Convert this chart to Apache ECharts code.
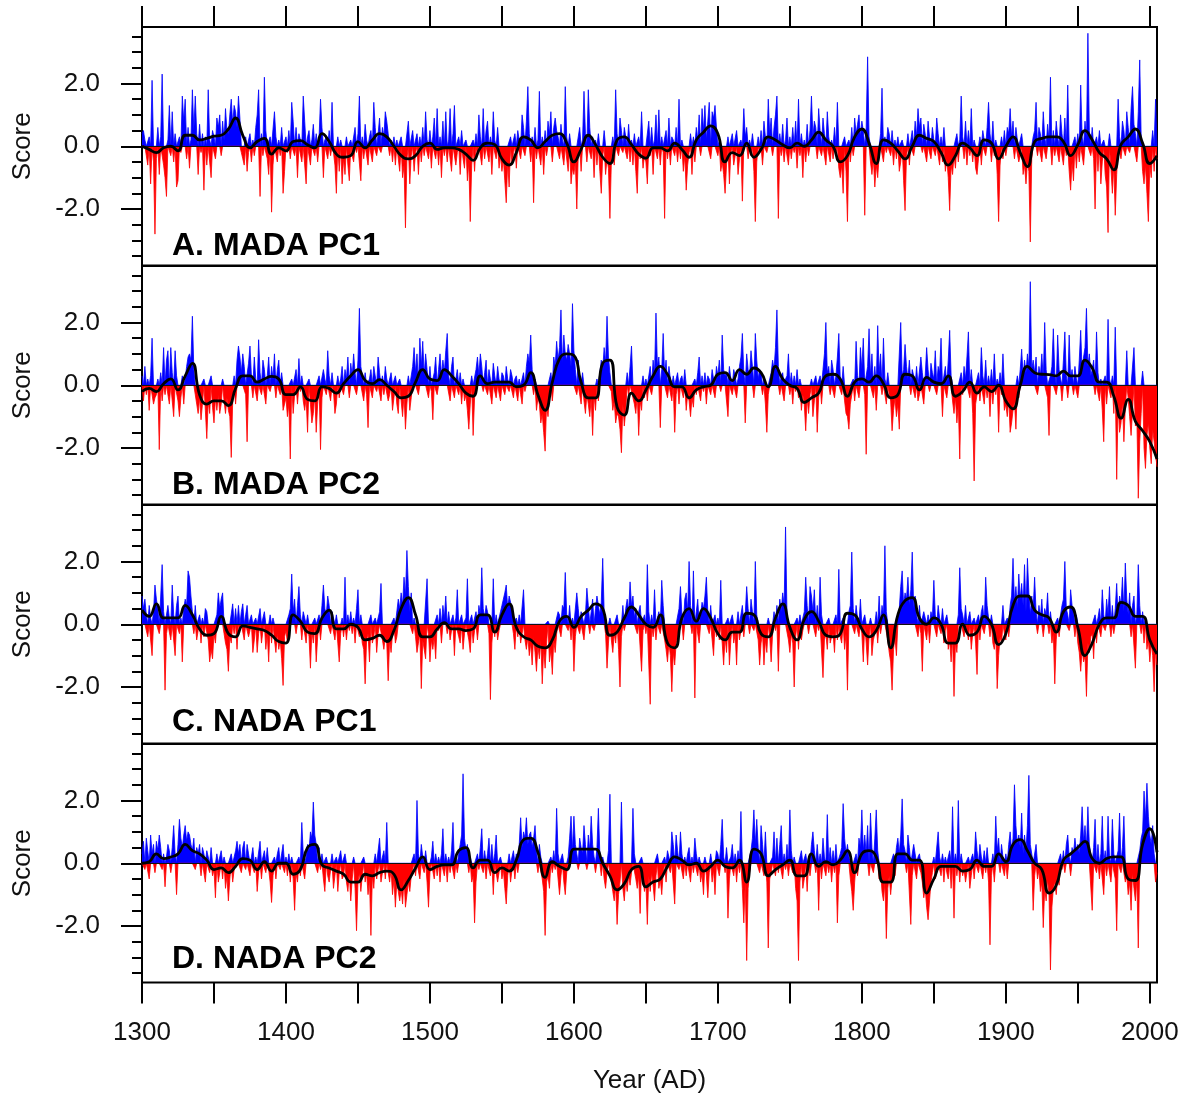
<!DOCTYPE html>
<html>
<head>
<meta charset="utf-8">
<script src="https://cdn.jsdelivr.net/npm/echarts@6/dist/echarts.min.js"></script>
<style>
html,body{margin:0;padding:0;background:#fff;}
#chart{width:1192px;height:1103px;}
</style>
</head>
<body>
<div id="chart"></div>
<script>
// ---- DATA (annual values, first year 1300) ----
const startYear = 1300;
const smoothStep = 5;
const panelTitles = ['A. MADA PC1', 'B. MADA PC2', 'C. NADA PC1', 'D. NADA PC2'];
const xTickValues = [1300,1350,1400,1450,1500,1550,1600,1650,1700,1750,1800,1850,1900,1950,2000];
const xLabelValues = [1300,1400,1500,1600,1700,1800,1900,2000];
const yLabelValues = [-2, 0, 2];
const yMinorValues = [-3.5,-3,-2.5,-1.5,-1,-0.5,0.5,1,1.5,2.5,3,3.5];

const madaPC1 = [
0.4,0.5,0.2,-0.3,-0.6,0.3,-1.2,2.1,-0.5,-2.8,
-0.4,0.6,-0.9,0.3,2.3,-0.6,-1.0,-1.6,0.2,1.3,
-0.3,1.1,-0.5,0.4,-1.3,-1.1,0.3,-0.2,1.6,0.8,
1.5,-0.4,0.6,-0.7,0.2,1.8,0.5,1.6,0.4,-0.9,
0.7,-0.2,0.4,-1.4,0.3,-0.6,1.8,0.2,-1.0,0.5,
0.3,-0.4,0.9,0.6,1.0,-0.3,0.8,0.2,1.2,0.5,
0.4,1.0,1.5,0.7,1.3,1.1,0.6,1.6,0.9,-0.2,
-0.4,-0.6,0.3,-0.8,-0.2,0.4,-0.5,0.2,-0.3,0.6,
1.0,1.8,-1.6,0.4,-0.3,2.2,0.5,-0.4,-0.9,0.3,
-2.1,-0.6,1.1,0.3,-0.5,0.2,-0.3,0.6,-1.5,-0.8,
0.3,-0.2,0.5,-0.4,1.4,0.8,-0.3,0.6,-1.0,0.4,
0.2,-0.5,1.6,0.8,-1.2,0.3,0.5,-0.6,0.2,0.7,
-0.3,0.4,-0.5,0.3,1.5,0.6,-1.0,0.2,0.3,-0.4,
0.5,-0.3,1.4,-0.2,-0.6,-1.5,0.3,-0.8,0.2,-1.2,
-0.4,-0.9,0.3,-0.6,-1.1,0.2,-0.3,-0.5,0.6,-0.2,
0.4,1.6,-1.1,0.3,-0.4,0.7,0.2,-0.6,0.3,0.5,
-0.5,1.4,0.6,-0.3,0.4,0.9,-0.2,0.6,0.3,1.1,
0.8,0.4,-0.3,0.2,-0.5,0.3,-0.6,0.2,-0.4,-0.8,
0.3,-1.0,-0.6,-2.6,-0.4,0.8,-1.2,-0.3,0.5,-0.8,
-0.2,0.4,-0.9,0.3,-0.5,0.6,-0.3,1.1,0.2,-0.4,
0.5,-0.7,0.3,0.9,-0.4,1.2,-0.6,0.3,-1.0,0.8,
-0.3,1.1,-0.5,0.2,1.2,-0.8,0.4,1.3,-0.6,-0.2,
0.3,-0.9,0.5,-0.4,-0.7,0.2,-1.1,-0.5,-2.4,-0.6,
0.2,-0.8,0.4,-0.3,1.0,0.3,-0.6,1.2,-0.4,0.5,
0.8,-0.5,0.3,-0.9,1.1,0.2,-0.4,0.6,-0.7,-0.3,
-0.8,-0.4,-1.1,-1.8,-0.5,-1.3,0.3,-0.6,-0.2,0.4,
-0.7,0.5,0.2,-0.4,1.0,0.6,-0.3,0.8,1.9,0.4,
-0.5,0.3,-1.8,0.6,-0.4,0.2,1.75,-0.6,0.3,-0.9,
0.5,-0.3,0.8,0.4,1.1,-0.5,0.6,0.9,0.5,0.3,
-0.4,0.7,0.2,-0.6,1.9,0.3,-0.8,0.4,-1.2,-0.7,
-0.9,-0.5,-2.0,-0.3,0.6,-0.8,0.2,1.75,0.4,-0.5,
1.8,0.6,-0.4,0.3,-1.0,0.2,-0.6,0.4,-0.8,-1.5,
-0.3,0.5,-0.9,-0.4,-0.7,-2.3,-0.5,0.3,-0.6,1.8,
0.4,-0.3,0.9,0.5,-0.2,0.6,0.3,-0.4,0.7,-0.5,
0.2,-0.6,0.4,-0.8,-1.5,0.3,-0.4,1.1,-0.7,-0.3,
-0.5,-1.2,0.8,-0.3,0.6,-0.9,0.2,1.0,-0.4,1.16,
-0.6,0.3,-0.2,-2.3,0.5,-0.4,0.9,-0.6,0.3,0.2,
-0.3,0.6,-0.5,1.5,-0.4,0.2,-0.8,-0.3,-1.4,-0.6,
-0.2,0.4,-0.9,0.3,-0.5,0.6,0.2,1.0,-0.3,1.2,
0.5,1.3,0.2,0.8,1.4,-0.4,1.1,0.9,1.3,0.6,
-0.3,0.2,-0.8,-0.5,-0.9,-1.5,-0.6,0.3,-1.2,-0.2,
0.4,-0.6,-0.3,0.5,-0.9,-0.4,0.2,-1.75,1.2,0.3,
0.6,-0.4,0.2,-0.3,0.4,-0.8,-2.4,-0.5,0.3,-0.2,
0.5,-0.6,0.8,0.3,-0.2,1.5,0.4,0.9,-0.3,0.6,
1.0,1.6,-2.3,0.4,-0.3,0.7,-0.5,0.2,0.9,-0.6,
0.3,-0.4,0.6,-0.2,0.8,-0.7,1.5,-0.3,0.4,-1.0,
0.2,-0.5,0.7,-0.3,0.5,1.6,0.3,0.8,0.6,-0.4,
1.2,0.5,-0.3,0.9,0.4,-0.6,1.1,0.3,-0.5,0.2,
-0.4,0.6,-0.2,1.4,-0.7,-1.0,-0.6,-1.5,0.3,-0.8,
-2.4,0.2,-0.5,0.6,-0.3,0.9,0.4,0.7,1.0,0.3,
0.8,0.5,-2.2,0.6,2.85,0.3,-0.5,-0.9,-0.4,-1.3,
-0.6,-1.0,-0.3,0.4,1.85,-0.5,0.3,-0.2,0.6,0.4,
-0.3,0.5,-0.6,0.2,-0.4,0.3,-0.8,-0.5,0.2,-1.1,
-2.05,-0.3,0.4,-0.6,0.2,0.5,-0.3,0.8,0.3,1.2,
0.6,0.9,-0.2,0.7,0.4,-0.5,0.8,0.3,-0.4,0.6,
0.2,-0.3,0.9,0.4,-0.6,0.3,-0.5,0.6,-0.8,-0.4,
-1.0,-2.05,-0.6,-0.9,-0.3,-0.7,0.4,-0.5,0.2,1.6,
0.3,-0.4,0.8,-0.6,0.5,-0.3,1.2,-0.5,0.2,-0.7,
-0.9,-0.4,0.3,-0.6,0.5,0.2,-0.3,0.6,1.4,0.4,
-0.5,0.8,-0.3,0.2,-0.9,-2.4,-0.6,0.3,-0.4,0.5,
-0.3,0.6,0.4,1.2,0.3,0.8,-0.4,0.6,0.2,-0.5,
-0.3,0.4,-0.9,-0.6,-1.2,-0.5,-0.8,-3.05,-0.4,0.3,
0.5,1.4,-0.3,0.6,0.4,-0.5,1.1,0.3,-0.4,0.7,
0.2,2.2,-0.6,0.5,-0.3,0.8,0.3,-0.5,1.0,0.4,
-0.6,0.9,-0.3,1.95,-0.8,-1.4,-0.5,-1.1,0.3,-0.7,
0.4,-0.5,1.95,0.3,-0.6,0.8,0.2,3.6,0.5,-0.3,
0.6,-0.4,-2.0,0.3,-0.8,0.5,-1.2,-0.5,0.2,-0.9,
-1.3,-2.75,0.4,-0.7,-1.5,-0.6,-2.2,-0.9,1.5,0.3,
-0.4,0.8,0.5,-0.3,1.1,0.6,-0.2,1.2,1.9,0.7,
0.4,-0.5,1.1,2.75,0.3,-0.8,-1.2,-0.6,-1.5,-2.4,
-0.6,-1.0,0.5,-0.8,1.5,-0.4
];

const madaPC2 = [
0.3,-0.5,0.6,-0.3,0.2,-0.8,0.3,1.5,-0.6,-0.4,
-0.3,0.2,-2.05,0.4,-0.5,1.2,-0.3,0.8,1.1,-0.6,
1.2,0.4,-1.0,1.1,0.3,-0.5,-1.0,-0.4,0.3,-0.6,
0.2,0.6,0.9,1.0,0.8,2.2,0.5,-0.3,-0.6,-0.9,
-0.4,-1.1,-0.6,0.2,-0.8,-1.7,-0.5,-0.9,0.3,-0.7,
-1.2,-0.4,-0.8,-0.3,-0.9,-0.6,0.2,-0.5,-0.9,-0.4,
-0.8,-1.0,-2.3,-0.5,0.3,-0.6,0.8,1.25,0.9,0.4,
1.0,0.6,-0.3,-1.8,0.7,1.25,0.3,-0.4,0.9,0.2,
-0.5,1.45,0.4,-0.3,0.8,0.5,-0.6,0.3,0.9,-0.2,
0.6,0.2,1.0,-0.4,0.5,0.8,-0.3,0.4,-0.8,-0.6,
-0.4,-1.0,-0.6,-2.35,0.2,-0.9,-0.3,0.5,-0.6,0.85,
-0.2,0.3,-0.5,-0.8,-0.4,-1.5,0.2,-0.6,-1.2,-0.9,
-0.3,-1.5,-0.6,0.3,-2.05,-0.4,0.5,0.2,-0.3,1.1,
0.3,-0.5,0.4,-0.2,-0.9,-0.6,0.3,-0.4,0.2,0.6,
-0.3,0.5,0.2,0.9,-0.4,0.7,0.3,1.0,0.4,-0.3,
0.8,2.45,0.6,0.3,-0.5,0.4,-0.3,-1.35,0.2,0.5,
-0.4,0.6,0.3,-0.2,0.9,0.4,-0.5,0.3,-0.3,0.6,
0.2,-0.5,-0.3,0.4,-0.8,-0.4,0.3,-0.6,-0.9,0.2,
-0.5,-1.0,-0.3,-1.4,-0.6,0.3,-0.8,-0.4,0.6,1.2,
0.4,1.0,-0.3,1.5,0.6,1.4,0.3,1.0,0.5,-0.4,
0.6,-0.2,-1.1,0.4,0.9,-0.3,0.5,1.0,0.3,0.8,
0.4,1.1,1.65,0.3,-0.5,0.6,0.9,-0.4,0.2,0.5,
-0.3,0.4,-0.6,0.2,-0.5,-0.3,-0.8,-1.4,-0.6,0.3,
-1.6,-0.4,0.5,0.9,0.3,1.0,0.6,-0.2,0.4,0.8,
-0.3,0.5,0.2,-0.6,0.7,0.3,-0.4,0.6,0.2,-0.5,
0.4,0.3,-0.3,0.6,0.2,-0.2,0.5,0.3,-0.4,0.2,
0.3,-0.5,0.2,-0.3,-0.6,0.4,-0.2,0.6,1.0,0.7,
1.6,0.5,-0.3,0.2,-0.8,-0.4,-0.6,-1.2,-0.9,-1.5,
-2.1,-0.6,-1.0,-0.3,0.4,-0.5,0.9,0.6,1.4,0.8,
1.2,2.4,0.7,1.6,1.0,0.8,1.3,1.0,0.6,2.6,
1.1,0.5,-0.3,0.8,0.2,-0.6,0.4,-0.5,-0.9,-0.3,
-0.6,-1.0,-0.4,-1.6,-0.3,-0.8,0.2,-0.5,0.4,0.8,
0.5,1.2,0.7,2.2,0.9,0.4,-0.2,-0.8,-0.5,-1.2,
-0.9,-1.0,-1.4,-2.15,-0.6,-1.3,-0.8,0.4,-0.3,0.6,
1.25,-0.4,-0.6,-0.9,-0.3,-1.6,-0.5,-0.8,0.3,-0.4,
0.2,-0.5,0.3,0.6,-0.3,0.8,0.4,2.3,0.6,0.9,
-1.35,0.5,1.65,0.3,0.8,-0.4,0.6,0.2,-0.5,0.3,
-1.5,-0.3,0.4,-0.6,0.2,0.3,-0.4,0.5,-0.8,-0.3,
-0.5,-1.0,-0.4,-0.7,0.2,-0.3,0.4,0.9,-0.5,0.3,
-0.2,0.4,-0.6,0.3,0.2,-0.3,0.5,0.2,-0.4,0.6,
0.3,0.8,-0.2,1.6,0.5,0.3,0.4,-1.0,0.6,0.2,
-0.3,0.5,0.3,-0.4,0.2,0.6,0.9,1.65,0.4,-1.2,
1.0,0.5,0.3,1.1,0.6,-0.4,1.65,0.8,0.2,0.5,
0.4,-0.3,0.2,-0.6,-1.5,-0.3,0.2,0.4,0.8,0.5,
1.2,2.4,0.6,-0.3,0.3,0.4,-0.5,0.2,0.3,1.0,
-0.3,0.4,-0.6,0.3,-0.2,0.5,-0.4,0.2,-0.8,-0.3,
-0.6,-1.45,-0.4,-0.9,-0.3,0.2,-1.0,-0.5,0.3,-1.5,
-0.4,0.3,-0.6,0.5,1.0,2.0,0.4,0.6,-0.3,0.8,
0.5,-0.4,0.3,0.9,1.65,0.2,-0.3,0.6,-0.5,-0.9,
-1.0,-1.4,-0.6,-0.3,0.2,-0.5,1.4,0.3,-0.4,1.2,
0.5,1.5,-0.3,-2.2,0.6,1.8,0.3,1.0,-0.4,0.6,
-0.8,1.9,0.4,1.0,-0.3,1.5,0.2,-0.6,0.4,-0.3,
-0.5,-1.45,-0.8,-0.4,-1.0,-0.6,-1.4,2.0,0.3,0.5,
1.3,0.6,0.2,0.8,-0.3,0.5,0.3,-0.4,0.6,-0.5,
-0.3,0.9,0.4,-0.6,0.3,1.2,0.5,-0.2,0.7,0.4,
0.2,1.1,-0.3,0.6,0.4,1.5,-1.0,0.3,0.6,-0.4,
0.8,1.75,0.3,-0.5,-0.9,-0.4,-1.2,-0.6,-2.35,0.4,
-0.3,0.6,0.2,0.9,1.7,-0.4,0.5,-0.9,-3.05,-0.6,
-0.3,0.4,-0.5,1.2,0.3,-0.6,0.8,-0.4,0.3,-1.0,
0.5,-0.6,1.0,-0.3,0.2,-1.5,0.4,-0.3,1.0,-0.8,
-0.6,-1.0,-0.4,-1.5,-1.2,-0.8,-0.5,-1.4,0.3,-0.4,
0.5,1.15,0.3,0.8,0.4,1.0,0.6,3.3,0.5,0.8,
0.4,0.9,-0.3,0.6,0.3,1.0,0.2,2.0,0.5,-0.4,
-1.6,0.3,0.6,1.8,0.4,-0.3,1.6,0.5,0.2,-0.5,
0.8,1.7,0.3,-0.4,1.6,0.2,0.5,-0.3,0.6,0.2,
-0.4,0.8,1.75,0.4,0.9,1.2,2.45,0.6,1.0,0.3,
0.5,0.8,-0.3,1.7,0.4,-0.5,0.2,-0.8,-1.8,0.3,
-0.6,2.1,0.2,-0.4,0.3,-0.9,1.85,-3.0,-0.6,-1.5,
-1.2,-0.5,-1.8,-0.7,1.1,-0.4,-1.0,-1.6,-0.8,1.2,
-1.3,-1.0,-3.6,-1.8,-0.9,0.45,-2.0,-2.65,-1.6,-1.2,
-2.0,-2.5,-1.4,-1.8,-2.2,-2.6
];

const nadaPC1 = [
0.9,0.5,0.8,0.3,-0.4,0.6,0.2,-1.0,0.4,1.25,
0.8,0.5,-0.3,0.9,1.9,0.4,-2.1,-0.3,0.6,0.2,
-0.5,1.25,0.3,-1.0,0.6,0.9,-0.3,0.2,-1.2,0.5,
0.8,0.6,1.7,1.5,0.9,0.4,-0.3,0.6,-0.5,-0.2,
0.3,-0.6,0.2,-0.4,0.5,0.4,-0.5,-1.2,-0.8,-1.1,
-0.3,-0.6,0.3,1.0,0.5,0.8,1.0,-0.3,-0.6,-0.8,
-1.5,-0.4,-0.6,0.65,-0.3,0.5,-0.8,0.6,-0.2,0.4,
0.65,-0.5,0.3,0.6,-0.4,-0.2,0.3,-0.9,-0.5,0.2,
-0.9,-0.3,0.5,-0.6,-0.2,0.4,-0.8,-0.3,-1.2,0.3,
-0.6,0.2,-0.5,-0.9,-0.3,-0.8,-0.5,-1.1,-1.95,-0.4,
-0.2,-0.6,0.3,0.5,1.6,0.4,0.8,-0.3,0.6,1.2,
0.3,-0.5,0.4,0.2,-0.6,0.3,-0.4,-1.4,-0.2,-0.6,
0.2,-1.2,-0.4,0.3,-0.5,0.6,1.25,0.5,0.3,0.9,
0.6,-0.3,0.4,0.2,-0.5,0.3,-0.6,-1.2,-0.3,0.2,
-0.4,1.5,-0.5,0.3,-0.2,0.4,-0.3,0.2,-0.6,0.5,
1.1,-0.4,0.3,-0.6,-0.8,-1.9,-0.5,-0.3,-1.2,0.3,
-0.6,-0.4,0.2,-0.9,-0.3,0.4,1.3,-0.5,-0.8,-0.4,
-0.6,-1.8,-0.5,-0.9,-0.3,0.2,-0.6,-0.4,0.8,0.5,
1.0,0.6,1.5,0.9,2.35,1.2,0.4,1.0,-0.3,0.2,
-0.4,-0.9,-0.6,-0.3,-2.05,-0.5,-0.8,-1.1,1.45,-0.3,
-1.2,-0.5,-0.8,-0.4,-1.1,0.3,-0.2,0.5,-0.6,0.6,
0.2,0.9,-0.3,0.4,-0.5,-0.2,0.3,-1.0,0.2,1.1,
-0.4,-0.6,0.3,-0.8,-0.3,0.2,1.45,-0.5,-0.9,0.3,
-0.6,-0.2,0.4,-0.5,0.6,0.3,1.8,0.5,0.2,0.6,
0.4,-0.3,-2.4,-0.6,1.45,-0.4,0.3,-0.5,-0.2,0.4,
0.6,0.8,1.0,1.25,0.5,0.9,0.7,0.4,-0.3,-0.8,
0.2,-0.4,0.3,-0.6,-0.3,1.1,-0.5,-0.8,-0.4,-1.0,
-0.6,-1.3,-0.4,-0.9,-1.5,-0.7,-1.1,-0.5,-1.9,-0.8,
-1.4,-0.6,0.1,-1.2,-0.8,-1.6,-0.5,-0.9,-0.3,0.4,
0.3,-0.4,0.6,0.5,1.65,0.3,-0.2,0.6,-0.5,0.2,
-1.5,-0.4,1.0,0.5,-0.3,0.4,0.2,-0.5,0.3,1.15,
0.6,-0.3,0.4,0.8,-0.2,0.5,0.9,0.6,0.3,0.7,
2.1,0.4,-0.3,-1.4,-0.6,0.2,-0.5,-0.9,-0.3,-0.6,
0.3,-0.8,-2.0,-0.4,0.6,-0.2,0.5,0.8,0.4,1.35,
0.6,0.9,0.2,0.5,-0.3,0.4,0.6,-1.5,-0.2,0.3,
-0.3,1.9,0.4,-2.55,0.3,-0.4,1.1,-0.5,0.2,0.4,
-0.3,1.4,0.6,-0.5,-0.8,-1.2,-0.6,-1.0,-2.15,-0.9,
-1.3,-0.6,-0.4,0.5,1.2,0.3,-0.5,0.8,1.0,0.4,
2.0,0.6,-0.3,1.7,-2.35,0.4,0.8,-0.6,0.3,0.7,
0.5,0.9,1.5,0.4,-0.3,0.6,-0.5,-1.0,0.3,-0.4,
0.2,-0.5,1.4,-0.6,-1.3,-0.4,-0.9,0.2,-1.3,-0.5,
0.3,-0.6,-0.3,-1.3,0.4,-0.5,-0.2,0.6,-0.4,0.3,
1.2,0.5,-0.3,0.8,0.4,-0.2,2.0,0.3,-0.5,-1.3,
-0.6,-0.3,-1.3,-0.5,-0.9,0.2,-0.4,-1.2,-0.3,0.4,
-0.2,0.6,-1.5,0.8,0.4,1.0,0.6,3.1,0.3,-0.5,
-0.9,-0.3,-0.6,-2.0,-0.4,0.2,-0.8,0.3,-0.5,-0.2,
0.4,1.5,0.6,-0.3,1.2,0.9,0.4,1.1,-0.4,0.6,
-0.2,1.5,0.3,-1.7,-0.5,-0.3,-0.8,0.2,-0.6,-0.4,
-0.3,-0.9,0.3,-0.5,1.75,-0.4,-0.6,0.2,-0.8,-0.3,
-2.1,0.4,0.6,2.3,0.5,-0.3,0.6,0.2,-0.4,0.8,
-0.3,-1.2,0.3,-0.6,-1.3,-0.4,0.2,-1.0,-0.5,-0.3,
0.4,-0.6,0.9,-0.3,0.6,0.3,2.5,0.4,-0.5,-0.9,
-1.2,-2.1,-0.8,-0.4,-1.0,0.3,0.5,1.2,1.7,0.6,
1.0,0.8,1.5,0.6,1.1,2.3,0.5,0.9,0.3,-0.4,
0.6,-0.3,-1.5,0.4,0.2,-0.5,0.3,-0.6,0.4,0.2,
1.4,0.3,-0.4,0.6,0.2,-0.3,0.5,-0.6,-0.2,0.3,
-0.8,-0.5,-1.2,-0.4,-2.3,-0.6,-0.9,0.3,1.8,0.5,
0.3,-0.4,0.6,-0.2,-0.5,0.4,-0.8,-0.3,0.2,-0.6,
-1.6,0.3,-0.5,0.4,0.6,-0.3,1.5,0.6,0.2,-0.4,
0.3,-0.6,-0.8,-0.3,-2.05,-1.0,-0.4,-0.6,0.6,-0.3,
-0.5,0.2,-0.4,0.6,0.9,2.1,0.7,1.2,0.5,1.6,
0.8,1.3,0.6,1.9,0.4,2.1,1.0,0.3,0.9,0.5,
1.5,0.4,-0.3,0.6,0.2,0.8,-0.4,0.5,0.3,1.0,
-0.3,0.4,-0.6,-0.3,-1.9,-0.5,0.2,-0.4,0.3,0.6,
0.8,2.0,0.5,0.3,-0.2,1.1,0.6,0.4,-0.4,0.3,
-0.6,-0.9,-1.5,-0.8,-1.2,-1.0,-2.3,-0.6,-0.9,-0.4,
-0.3,-1.1,0.3,-0.6,0.2,0.5,-0.4,1.1,0.3,-0.2,
0.8,0.3,1.2,-0.4,0.6,-0.3,0.5,1.3,0.2,0.9,
0.6,1.5,0.4,1.95,0.8,0.3,1.0,-0.4,0.6,0.9,
-1.4,0.3,1.9,0.6,-0.3,0.4,-0.6,0.2,-0.8,-0.5,
-1.2,-0.6,-1.0,-2.15,-0.8,-1.3
];

const nadaPC2 = [
0.3,0.7,-0.2,0.8,0.4,-0.5,0.9,0.3,0.6,-0.3,
0.7,0.4,0.9,0.5,-0.2,0.3,-0.75,0.2,0.6,0.4,
-0.3,0.5,1.2,0.3,-1.0,0.6,1.4,0.8,0.5,0.9,
1.2,0.7,1.0,0.9,0.6,0.4,0.8,-0.2,0.5,0.3,
0.6,-0.4,0.5,0.3,-0.6,0.4,0.2,-0.3,0.5,-0.4,
-0.2,-1.1,0.3,-0.6,-0.3,0.4,-0.5,0.2,-0.8,-0.4,
-1.2,-0.5,0.3,-0.6,-0.2,0.4,0.7,0.3,0.6,-0.3,
0.5,0.7,-0.2,0.6,0.3,-0.4,0.2,0.5,-0.3,0.2,
-0.9,-0.3,0.7,-0.5,0.2,0.4,-0.3,0.5,-0.2,-0.6,
-1.25,-0.4,0.2,-0.5,0.3,0.5,-0.2,0.3,0.6,-0.3,
0.2,-0.4,0.3,-0.6,0.2,-0.5,-1.5,-0.3,-0.6,0.2,
-0.4,1.3,0.3,-0.5,0.2,0.6,0.4,1.0,0.8,1.95,
0.9,0.6,-0.3,0.5,-0.2,0.3,-0.5,-0.9,0.2,-0.4,
-0.6,-0.2,0.3,-0.8,-0.4,0.2,-0.9,-0.3,0.4,-0.5,
-0.4,0.3,-0.6,-0.9,-0.3,-1.2,-0.5,0.2,-0.8,-2.15,
-0.6,-0.3,-0.9,-0.4,0.2,-0.6,-0.3,-1.0,-0.5,-2.3,
-0.4,-0.8,0.3,-0.5,-0.2,0.8,-0.6,-0.3,0.4,-0.5,
1.3,-0.3,-0.6,-0.2,-1.0,-0.5,-1.4,-0.6,-0.9,-1.2,
-0.8,-1.3,-0.5,-1.4,-1.0,-0.6,-0.9,-0.4,-0.2,0.3,
-0.4,2.0,0.3,-0.5,0.6,0.2,-0.3,0.4,-0.6,-1.4,
-0.3,0.2,0.7,-0.5,0.3,-0.4,0.2,-0.6,0.3,1.1,
-0.4,0.3,-0.6,0.2,-0.3,0.4,1.3,-0.5,0.2,-0.3,
0.3,0.6,0.9,2.85,0.8,0.4,0.6,-0.3,0.2,-0.6,
-0.4,-1.9,-0.6,0.3,-0.2,0.5,1.1,-0.3,0.4,-0.5,
0.3,0.8,-0.4,0.6,-1.0,0.3,0.9,-0.6,-0.3,0.2,
-0.5,-0.2,-0.8,-1.3,-0.4,0.3,-0.6,-0.2,0.4,-0.5,
0.3,-0.3,0.6,1.45,0.5,1.0,0.8,1.45,0.6,0.9,
1.0,0.5,0.8,1.2,0.4,-0.3,0.6,0.2,-0.5,-0.9,
-2.3,-0.6,-0.4,-0.8,0.2,-0.3,0.4,-0.2,1.75,0.3,
-1.0,-0.4,0.3,-0.6,-1.0,-0.3,0.2,0.8,1.5,0.4,
1.5,0.6,0.3,-0.2,0.8,0.5,0.3,1.2,0.6,-0.2,
0.9,0.4,1.5,0.6,0.2,-0.3,0.5,1.75,0.3,-0.4,
0.2,-0.5,-0.8,-0.3,0.4,2.2,-0.6,-0.9,-1.2,-0.7,
-1.95,-1.0,-0.6,1.95,-0.8,-1.2,-0.5,-0.9,-0.4,-0.7,
-0.3,1.75,0.3,-0.5,-0.8,-0.4,-1.6,0.2,-0.5,-0.9,
-0.6,-1.95,-0.4,-0.9,-0.3,-0.7,-1.2,-0.4,0.3,-0.8,
-0.5,-1.0,-0.3,0.2,-0.6,0.4,0.2,-0.3,1.0,0.6,
-1.3,0.9,0.4,-0.2,1.0,0.3,-0.5,0.2,-0.4,0.3,
0.5,-0.6,0.2,-0.3,0.8,0.3,-0.4,0.2,-0.6,-0.3,
-1.0,0.2,-0.4,-1.1,-0.3,0.3,-0.6,-0.2,-1.0,0.4,
0.3,-0.4,0.6,1.4,0.2,-0.3,0.5,-1.75,-0.5,0.2,
0.6,-0.4,0.3,-0.6,0.4,-0.3,1.65,-0.8,-1.9,-0.6,
-3.1,-0.8,-0.3,0.4,0.8,1.7,0.6,1.4,0.5,-0.3,
1.2,0.6,-0.4,1.0,-0.6,-2.7,-0.5,-0.3,0.2,1.0,
-0.4,0.8,-0.3,0.6,1.2,-0.5,0.3,-0.2,0.6,-0.4,
1.7,0.4,-0.3,0.2,-0.8,-1.2,-3.1,-0.6,0.4,-0.8,
-0.5,0.3,-0.9,0.2,-0.4,0.6,1.0,0.4,-0.3,0.6,
-1.5,0.3,-0.5,0.8,0.2,-0.4,1.55,-0.3,0.5,-0.6,
0.4,-0.3,0.6,-1.9,-0.4,0.3,0.5,1.9,0.8,0.3,
0.6,0.2,-0.5,-0.9,-1.5,-0.6,0.3,-0.4,0.8,0.5,
1.7,0.4,0.9,0.3,1.2,-0.4,1.6,0.5,-0.3,0.8,
1.7,0.4,-0.5,-0.2,-0.9,-1.2,-0.6,-2.4,-0.8,-0.4,
-1.0,-0.5,0.3,-0.4,0.5,0.8,0.3,0.9,2.05,0.6,
0.4,-0.3,0.9,0.5,-1.95,-0.4,0.6,0.3,-0.5,0.2,
0.3,-0.3,-0.6,-1.1,-0.8,-1.4,-1.8,-1.2,-0.6,-0.3,
0.2,-0.5,-0.3,1.0,0.2,-0.4,0.3,-0.6,0.2,-0.3,
-0.5,0.4,-0.8,1.8,-1.75,0.3,-0.4,2.0,-0.6,0.3,
-0.4,-0.2,-0.6,-0.3,0.2,-0.8,-0.4,0.3,-0.5,1.0,
0.4,-0.3,0.6,0.2,-0.5,0.4,-0.3,0.5,-0.6,-2.6,
-0.4,0.3,-0.6,1.5,0.4,0.8,-0.3,0.6,0.2,-0.4,
0.3,-0.5,0.6,1.0,0.4,0.8,2.5,1.2,0.6,0.9,
0.5,1.6,0.3,0.9,0.4,1.2,2.8,0.6,0.3,-1.5,
-0.4,0.6,-0.5,-0.2,-0.9,-0.6,-2.05,-0.8,-1.2,-0.5,
-1.0,-3.4,-1.4,-0.8,-0.6,-1.0,-0.4,-0.7,0.3,-0.2,
0.4,-0.3,0.6,0.9,0.2,-0.4,0.5,0.3,0.8,0.4,
0.6,0.3,0.9,1.8,0.7,1.2,0.5,1.8,0.6,0.3,
-1.5,0.5,1.4,-0.3,0.6,-0.5,0.3,1.5,-1.0,0.4,
-0.4,1.5,0.2,-0.6,1.4,0.3,-0.5,-2.15,0.4,1.6,
-0.3,0.5,1.5,-0.6,-0.4,-1.0,-0.6,-1.5,-0.3,-0.8,
-1.2,-0.5,-2.7,0.4,0.8,1.0,2.3,1.4,2.55,1.5,
0.9,0.6,1.2,0.3,-0.6,-0.3
];

// smoothed curves, one value every 5 years from 1300 to 2005
const madaPC1Smooth = [
0.0,-0.1,-0.2,-0.05,0.0,-0.15,0.35,0.35,0.2,0.25,
0.32,0.35,0.55,0.9,0.35,-0.05,0.15,0.25,-0.25,-0.05,
-0.15,0.15,0.18,0.05,-0.05,0.4,0.15,-0.25,-0.35,-0.3,
0.15,-0.05,0.2,0.4,0.3,0.0,-0.3,-0.4,-0.3,0.0,
0.1,-0.1,-0.05,-0.05,-0.1,-0.25,-0.45,-0.05,0.1,0.05,
-0.4,-0.6,-0.2,0.3,0.2,-0.05,0.15,0.35,0.4,0.1,
-0.5,-0.1,0.35,0.05,-0.35,-0.55,0.2,0.3,0.05,-0.25,
-0.38,-0.05,-0.05,-0.15,0.1,-0.1,-0.35,0.2,0.45,0.65,
0.4,-0.5,-0.2,-0.3,0.1,-0.35,-0.1,0.3,0.2,0.05,
-0.05,0.1,0.0,0.2,0.45,0.2,0.0,-0.5,-0.3,0.3,
0.55,0.1,-0.55,0.2,0.1,-0.15,-0.4,0.0,0.35,0.25,
0.15,-0.2,-0.6,-0.3,0.1,-0.05,-0.3,0.2,0.1,-0.4,
0.0,0.3,-0.2,-0.65,0.15,0.25,0.3,0.3,0.15,-0.3,
0.05,0.5,0.2,-0.2,-0.4,-0.75,0.05,0.3,0.55,0.1,
-0.55,-0.3
];
const madaPC2Smooth = [
-0.2,-0.1,-0.2,0.05,0.2,-0.15,0.3,0.7,-0.3,-0.6,
-0.5,-0.5,-0.65,-0.1,0.3,0.3,0.1,0.2,0.28,0.2,
-0.3,-0.3,-0.05,-0.45,-0.5,-0.05,-0.1,-0.25,0.05,0.3,
0.5,0.15,0.05,0.18,0.0,-0.2,-0.4,-0.35,0.1,0.5,
0.2,0.15,0.5,0.3,0.05,-0.25,-0.35,0.3,0.05,0.1,
0.1,0.1,-0.05,0.0,0.4,-0.3,-0.8,0.1,0.85,1.0,
0.95,0.1,-0.4,-0.4,0.7,0.8,-0.7,-0.95,-0.25,-0.5,
-0.15,0.3,0.6,0.35,-0.05,-0.05,-0.4,-0.15,-0.05,0.0,
0.35,0.4,0.15,0.5,0.35,0.55,0.4,-0.05,0.6,0.2,
0.0,-0.1,-0.55,-0.4,-0.25,0.3,0.35,0.2,-0.35,0.1,
0.2,0.1,0.3,0.05,-0.4,-0.3,0.35,0.3,-0.15,0.25,
0.1,0.05,0.3,-0.35,-0.2,0.1,-0.25,-0.05,-0.2,0.0,
-0.5,-0.75,0.0,0.6,0.4,0.35,0.34,0.3,0.45,0.3,
0.3,0.8,0.55,0.1,0.1,-0.35,-1.05,-0.45,-1.15,-1.45,
-1.8,-2.35
];
const nadaPC1Smooth = [
0.45,0.25,0.65,0.2,0.2,0.2,0.6,0.3,-0.15,-0.35,
-0.3,0.25,-0.3,-0.4,-0.05,-0.1,-0.15,-0.2,-0.35,-0.55,
-0.6,0.3,0.1,-0.25,-0.3,0.2,0.45,-0.15,-0.15,0.0,
-0.1,-0.5,-0.45,-0.35,-0.55,-0.2,0.5,0.85,0.3,-0.4,
-0.4,-0.15,0.05,-0.15,-0.15,-0.2,-0.15,0.3,0.3,-0.25,
0.3,0.65,-0.1,-0.4,-0.5,-0.7,-0.75,-0.5,0.1,0.25,
-0.1,0.25,0.45,0.65,0.5,-0.35,-0.25,0.2,0.55,0.3,
0.0,-0.1,0.3,-0.6,-0.75,0.2,0.5,0.1,0.5,0.2,
-0.3,-0.5,-0.25,-0.25,0.35,0.3,-0.3,-0.4,0.2,0.65,
-0.1,-0.5,0.15,0.4,0.1,-0.35,-0.4,-0.3,0.35,0.3,
-0.15,-0.4,-0.2,0.3,-0.75,0.3,0.75,0.85,0.2,0.0,
0.2,0.0,-0.6,-0.6,0.0,-0.35,-0.25,0.25,0.0,-0.65,
-0.3,0.6,0.9,0.9,0.45,0.3,0.2,-0.25,0.4,0.55,
-0.1,-1.0,-0.6,0.0,0.2,0.2,0.7,0.6,0.25,0.25,
-0.5,-0.95
];
const nadaPC2Smooth = [
0.0,0.05,0.3,0.15,0.2,0.3,0.6,0.4,0.3,0.1,
-0.2,-0.15,-0.3,-0.1,0.15,0.1,-0.2,0.05,-0.25,0.0,
0.0,-0.35,-0.2,0.5,0.6,-0.05,-0.15,-0.25,-0.35,-0.6,
-0.6,-0.35,-0.4,-0.3,-0.25,-0.35,-0.85,-0.55,-0.15,0.2,
-0.2,-0.1,-0.05,-0.05,0.4,0.5,-0.15,0.1,0.1,-0.3,
-0.15,-0.25,0.1,0.75,0.8,0.35,-0.45,0.05,-0.1,-0.2,
0.45,0.45,0.45,0.45,0.0,-0.4,-0.85,-0.65,-0.2,-0.1,
-0.75,-0.6,-0.5,-0.1,0.2,0.1,-0.05,0.0,-0.25,-0.1,
0.1,-0.1,-0.15,0.1,-0.6,0.45,0.3,-0.4,-0.2,-0.05,
0.1,-0.4,-0.4,0.3,-0.1,0.05,-0.05,0.1,0.4,-0.3,
0.3,0.4,0.2,-0.6,-0.6,0.3,0.3,0.1,0.1,-0.95,
-0.5,-0.1,-0.1,-0.1,-0.25,-0.2,0.1,-0.1,-0.1,0.3,
0.05,0.6,0.75,0.4,0.0,-0.2,-0.95,-0.7,0.1,0.3,
0.5,0.7,0.15,0.0,0.15,0.2,0.2,-0.5,-0.55,0.6,
1.1,0.35
];

// ---- CHART ----
const FONT = '"Liberation Sans", Arial, Helvetica, sans-serif';
const panels = [
  {vals: madaPC1, smooth: madaPC1Smooth},
  {vals: madaPC2, smooth: madaPC2Smooth},
  {vals: nadaPC1, smooth: nadaPC1Smooth},
  {vals: nadaPC2, smooth: nadaPC2Smooth}
];
const gridTops = [27, 266, 505, 744];
const gridH = 238.5;
const titleTops = [230, 469, 706, 943];

const grids = [], xAxes = [], yAxes = [], series = [], graphics = [];
panels.forEach((p, i) => {
  grids.push({left: 142, width: 1015, top: gridTops[i], height: gridH, show: true,
    borderColor: '#000', borderWidth: 2, backgroundColor: 'transparent', containLabel: false});
  const isTop = i === 0, isBottom = i === 3;
  xAxes.push({
    type: 'value', gridIndex: i, min: 1300, max: 2005,
    position: isTop ? 'top' : 'bottom',
    axisLine: {show: false, onZero: false},
    splitLine: {show: false},
    axisTick: {show: isTop || isBottom, customValues: xTickValues, length: 21,
      lineStyle: {color: '#000', width: 2}},
    axisLabel: {show: isBottom, customValues: xLabelValues, fontSize: 26, color: '#111',
      margin: 37, fontFamily: FONT, formatter: v => String(Math.round(v))},
    name: isBottom ? 'Year (AD)' : '',
    nameLocation: 'middle', nameGap: 85,
    nameTextStyle: {fontSize: 26, color: '#111', fontFamily: FONT}
  });
  yAxes.push({
    type: 'value', gridIndex: i, min: -3.8, max: 3.8, position: 'left',
    axisLine: {show: false},
    splitLine: {show: false},
    axisTick: {show: true, customValues: yLabelValues, length: 21, lineStyle: {color: '#000', width: 2}},
    axisLabel: {show: true, customValues: yLabelValues, fontSize: 26, color: '#111', margin: 42,
      fontFamily: FONT, formatter: v => Number(v).toFixed(1)},
    name: 'Score', nameLocation: 'middle', nameRotate: 90, nameGap: 106,
    nameTextStyle: {fontSize: 26, color: '#111', fontFamily: FONT}
  });
  yAxes.push({
    type: 'value', gridIndex: i, min: -3.8, max: 3.8, position: 'left', offset: 0,
    axisLine: {show: false}, splitLine: {show: false},
    axisTick: {show: true, customValues: yMinorValues, length: 10, lineStyle: {color: '#000', width: 2}},
    axisLabel: {show: false}
  });
  const pos = p.vals.map((v, k) => [startYear + k, Math.max(v, 0)]);
  const neg = p.vals.map((v, k) => [startYear + k, Math.min(v, 0)]);
  series.push({
    type: 'line', xAxisIndex: i, yAxisIndex: 2 * i, data: pos, symbol: 'none', silent: true,
    lineStyle: {width: 0.8, color: '#0000ff'}, areaStyle: {color: '#0000ff', opacity: 1, origin: 'auto'}, z: 2,
    markLine: {silent: true, symbol: 'none', label: {show: false},
      lineStyle: {color: '#111', width: 1, type: 'solid'}, data: [{yAxis: 0}]}
  });
  series.push({
    type: 'line', xAxisIndex: i, yAxisIndex: 2 * i, data: neg, symbol: 'none', silent: true,
    lineStyle: {width: 0.8, color: '#ff0000'}, areaStyle: {color: '#ff0000', opacity: 1, origin: 'auto'}, z: 2
  });
  series.push({
    type: 'line', xAxisIndex: i, yAxisIndex: 2 * i, symbol: 'none', silent: true, smooth: 0.5,
    data: p.smooth.map((v, k) => [startYear + smoothStep * k, v]),
    lineStyle: {width: 2.8, color: '#000'}, z: 5
  });
  graphics.push({type: 'text', left: 172, top: titleTops[i], z: 10,
    style: {text: panelTitles[i], font: 'bold 32px ' + FONT, fill: '#000'}});
});

const chart = echarts.init(document.getElementById('chart'), null, {renderer: 'canvas'});
chart.setOption({
  animation: false,
  backgroundColor: '#fff',
  grid: grids, xAxis: xAxes, yAxis: yAxes, series: series, graphic: graphics
});
</script>
</body>
</html>
